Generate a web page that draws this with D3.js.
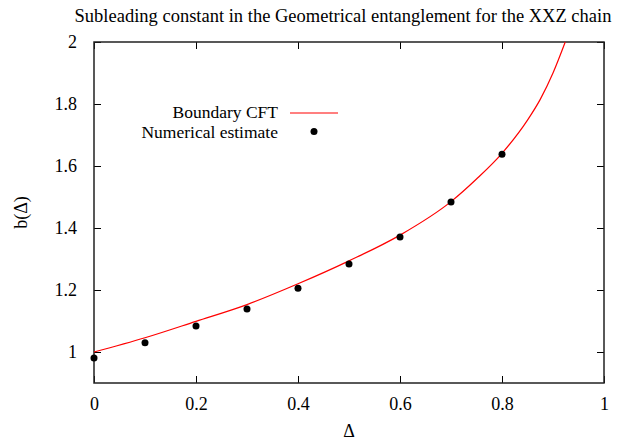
<!DOCTYPE html>
<html><head><meta charset="utf-8">
<script src="https://cdn.jsdelivr.net/npm/d3@7"></script>
<style>body{margin:0;background:#fff}svg{display:block}text{font-family:"Liberation Serif","Times New Roman",serif;fill:#000}</style>
</head><body><svg id="c" width="621" height="441"></svg>
<script>
const title = "Subleading constant in the Geometrical entanglement for the XXZ chain";
const xTicks = [0, 0.2, 0.4, 0.6, 0.8, 1];
const yTicks = [1, 1.2, 1.4, 1.6, 1.8, 2];
const xTickLabels = ["0", "0.2", "0.4", "0.6", "0.8", "1"];
const yTickLabels = ["1", "1.2", "1.4", "1.6", "1.8", "2"];
// Numerical estimate
const numDelta = [0, 0.1, 0.2, 0.3, 0.4, 0.5, 0.6, 0.7, 0.8];
const numB = [0.981, 1.030, 1.084, 1.139, 1.206, 1.284, 1.371, 1.484, 1.638];
// Boundary CFT curve
const cftDelta = [0, 0.1, 0.2, 0.3, 0.4, 0.5, 0.6, 0.7, 0.75, 0.8, 0.85, 0.875, 0.9, 0.924];
const cftB = [1.0, 1.046, 1.099, 1.153, 1.220, 1.294, 1.377, 1.485, 1.558, 1.641, 1.748, 1.815, 1.900, 2.0];

const svg = d3.select("#c");
const L = 94, R = 604, T = 42, B = 383;
const x = d3.scaleLinear().domain([0, 1]).range([L, R]);
const y = d3.scaleLinear().domain([0.9, 2]).range([B, T]);
const fs = 18;

svg.append("text").attr("x", 343).attr("y", 22).attr("text-anchor", "middle")
  .style("font-size", "18.5px").text(title);

// ticks (inward, mirrored)
const tl = 7;
const gx = svg.append("g").attr("transform", `translate(0,${B})`)
  .call(d3.axisBottom(x).tickValues(xTicks).tickSize(-tl).tickPadding(14)
    .tickFormat((d, i) => xTickLabels[i]));
const gxt = svg.append("g").attr("transform", `translate(0,${T})`)
  .call(d3.axisTop(x).tickValues(xTicks).tickSize(-tl).tickFormat(""));
const gy = svg.append("g").attr("transform", `translate(${L},0)`)
  .call(d3.axisLeft(y).tickValues(yTicks).tickSize(-tl).tickPadding(17)
    .tickFormat((d, i) => yTickLabels[i]));
const gyr = svg.append("g").attr("transform", `translate(${R},0)`)
  .call(d3.axisRight(y).tickValues(yTicks).tickSize(-tl).tickFormat(""));
[gx, gxt, gy, gyr].forEach(g => {
  g.select(".domain").remove();
  g.selectAll(".tick line").attr("stroke", "#000").attr("stroke-width", 1);
  g.selectAll("text").style("font-family", '"Liberation Serif",serif').style("font-size", fs + "px");
});
svg.append("rect").attr("x", L).attr("y", T).attr("width", R - L).attr("height", B - T)
  .attr("fill", "none").attr("stroke", "#222").attr("stroke-width", 1.5);

// axis labels
svg.append("text").attr("x", x(0.5)).attr("y", 437).attr("text-anchor", "middle")
  .style("font-size", fs + "px").text("Δ");
svg.append("text").attr("transform", `translate(27,${y(1.45)}) rotate(-90)`)
  .attr("text-anchor", "middle").style("font-size", fs + "px").text("b(Δ)");

// curve
const line = d3.line().x(d => x(d[0])).y(d => y(d[1])).curve(d3.curveMonotoneX);
svg.append("path").datum(cftDelta.map((d, i) => [d, cftB[i]]))
  .attr("d", line).attr("fill", "none").attr("stroke", "#ff0000").attr("stroke-width", 1.2);

// points
svg.append("g").selectAll("circle").data(numDelta.map((d, i) => [d, numB[i]]))
  .join("circle").attr("cx", d => x(d[0])).attr("cy", d => y(d[1])).attr("r", 3.5).attr("fill", "#000");

// legend
const lfs = 17.5;
svg.append("text").attr("x", 278).attr("y", 118).attr("text-anchor", "end")
  .style("font-size", lfs + "px").text("Boundary CFT");
svg.append("line").attr("x1", 290).attr("x2", 338).attr("y1", 113).attr("y2", 113)
  .attr("stroke", "#ff0000").attr("stroke-width", 1.2);
svg.append("text").attr("x", 278).attr("y", 138).attr("text-anchor", "end")
  .style("font-size", lfs + "px").text("Numerical estimate");
svg.append("circle").attr("cx", 314).attr("cy", 131.5).attr("r", 3.5).attr("fill", "#000");
</script></body></html>
